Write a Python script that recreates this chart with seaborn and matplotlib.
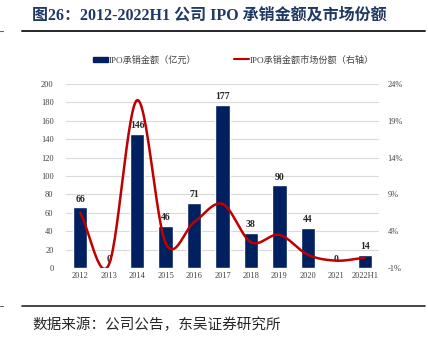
import numpy as np
import pandas as pd
import matplotlib
matplotlib.use("Agg")
import matplotlib.pyplot as plt
import seaborn as sns
from matplotlib.lines import Line2D
from matplotlib.patches import Patch

years = ["2012", "2013", "2014", "2015", "2016", "2017", "2018", "2019", "2020", "2021", "2022H1"]
amount = [66, 0, 146, 46, 71, 177, 38, 90, 44, 0, 14]
share = [6.5, -0.6, 21.8, 2.4, 5.2, 7.7, 2.5, 3.5, 0.8, 0.0, 0.4]
left_ticks = [0, 20, 40, 60, 80, 100, 120, 140, 160, 180, 200]
right_ticks = [-1, 4, 9, 14, 19, 24]

sns.set_theme(style="white")
plt.rcParams['font.family'] = ['Liberation Serif', 'Noto Sans CJK SC', 'DejaVu Sans']

NAVY = "#002060"
RED = "#C00000"

fig = plt.figure(figsize=(4.28, 3.43), dpi=100)
ax = fig.add_axes([66/428, 1-268/343, (379-66)/428, (268-84)/343])

df = pd.DataFrame({"year": years, "amount": amount})
sns.barplot(data=df, x="year", y="amount", color=NAVY, width=0.5, saturation=1, ax=ax)
ax.set_xlim(-0.5, len(years)-0.5)
ax.set_ylim(0, 200)
ax.set_yticks(left_ticks)
ax.yaxis.grid(True, color="#d9d9d9", linewidth=0.8)
ax.set_axisbelow(True)
for s in ax.spines.values():
    s.set_visible(False)
ax.set_xlabel("")
ax.set_ylabel("")
ax.tick_params(axis="both", length=0, labelsize=6, colors="#404040", pad=3)
ax.tick_params(axis="y", pad=9)

for i, v in enumerate(amount):
    ax.text(i, v + 4, str(v), ha="center", va="bottom", fontsize=7, fontweight="bold", color="#262626")

ax2 = ax.twinx()
ax2.set_ylim(-1, 24)
ax2.set_yticks(right_ticks)
ax2.set_yticklabels([f"{t}%" for t in right_ticks])
ax2.tick_params(axis="y", length=0, labelsize=6, colors="#404040", pad=6)
for s in ax2.spines.values():
    s.set_visible(False)
ax2.grid(False)

# Smooth rendering (Catmull-Rom) through the data points
x = np.arange(len(share), dtype=float)
y = np.array(share, dtype=float)
px = np.concatenate([[2*x[0]-x[1]], x, [2*x[-1]-x[-2]]])
py = np.concatenate([[2*y[0]-y[1]], y, [2*y[-1]-y[-2]]])
sx, sy = [], []
t = np.linspace(0, 1, 30)
for i in range(1, len(px)-2):
    p0, p1, p2, p3 = py[i-1], py[i], py[i+1], py[i+2]
    q0, q1, q2, q3 = px[i-1], px[i], px[i+1], px[i+2]
    cy = 0.5*((2*p1) + (-p0+p2)*t + (2*p0-5*p1+4*p2-p3)*t**2 + (-p0+3*p1-3*p2+p3)*t**3)
    cx = 0.5*((2*q1) + (-q0+q2)*t + (2*q0-5*q1+4*q2-q3)*t**2 + (-q0+3*q1-3*q2+q3)*t**3)
    sx.extend(cx); sy.extend(cy)
ax2.plot(sx, sy, color=RED, linewidth=1.8, solid_capstyle="round")

# Legend (two separate entries placed like the reference)
leg1 = fig.legend([Patch(facecolor=NAVY, edgecolor=NAVY)], ["IPO承销金额（亿元）"],
                  loc="center left", bbox_to_anchor=(93/428, 1-60/343), frameon=False,
                  fontsize=6.6, handlelength=1.6, handleheight=0.5, handletextpad=0.1,
                  labelcolor="#404040", borderaxespad=0, borderpad=0)
leg2 = fig.legend([Line2D([0], [0], color=RED, linewidth=1.5)], ["IPO承销金额市场份额（右轴）"],
                  loc="center left", bbox_to_anchor=(234/428, 1-60/343), frameon=False,
                  fontsize=6.6, handlelength=1.6, handletextpad=0.1,
                  labelcolor="#404040", borderaxespad=0, borderpad=0)

# Title and footer
fig.text(32/428, 1-16/343, "图26：2012-2022H1 公司 IPO 承销金额及市场份额", fontsize=11.5, fontweight="bold",
         color="#1F3864", va="center", ha="left")
fig.add_artist(Line2D([22/428, 425/428], [1-31/343, 1-31/343], color="#262626", linewidth=1.4))
fig.add_artist(Line2D([22/428, 425/428], [1-306/343, 1-306/343], color="#262626", linewidth=1.2))
fig.add_artist(Line2D([0, 3/428], [1-31/343, 1-31/343], color="#606060", linewidth=0.8))
fig.add_artist(Line2D([0, 3/428], [1-306/343, 1-306/343], color="#606060", linewidth=0.8))
fig.text(32/428, 1-325/343, "数据来源：公司公告，东吴证券研究所", fontsize=10.5, color="#262626",
         va="center", ha="left")

fig.savefig("out.png", dpi=100)
